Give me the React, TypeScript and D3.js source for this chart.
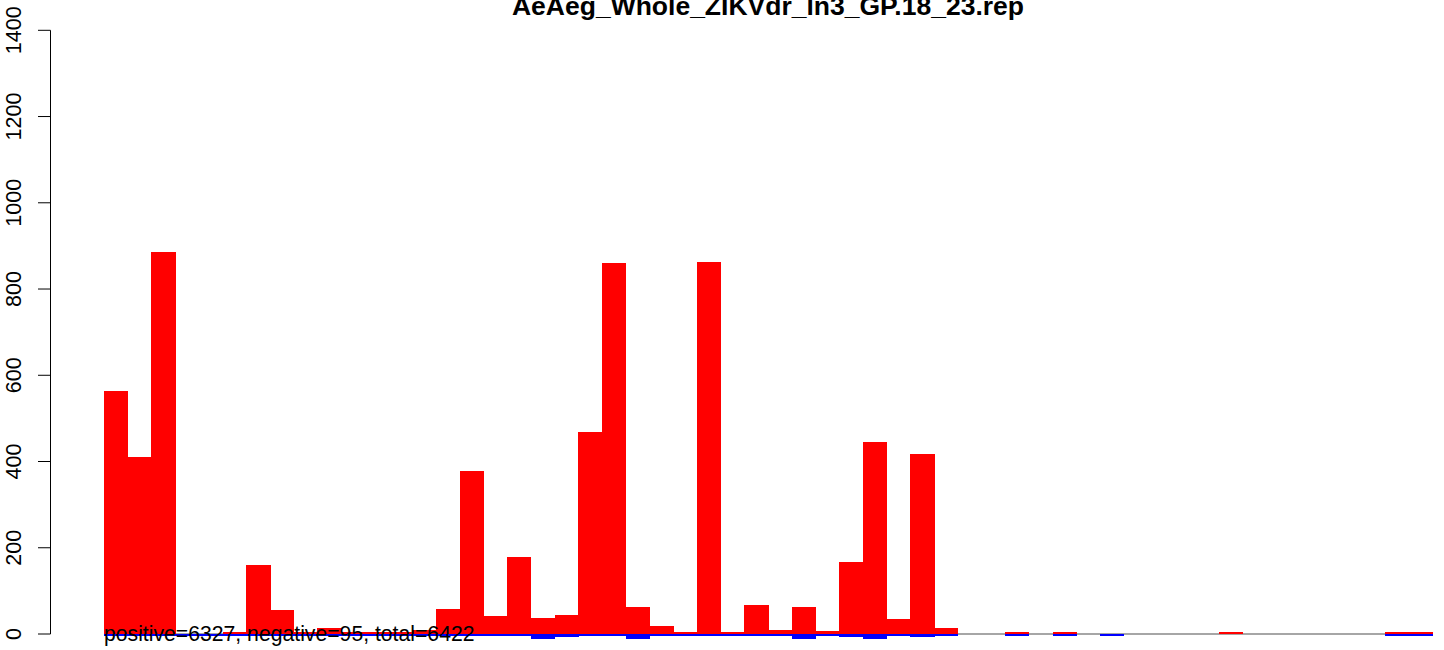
import React from 'react'
import * as d3 from 'd3'

// read-count per position bin (positive strand / negative strand)
const bins = d3.range(1, 57).map(String)

const positive = [
  563, 410, 886, 0, 0, 4, 161, 55, 3, 15,
  2, 2, 2, 10, 59, 377, 41, 178, 36, 43,
  468, 861, 62, 18, 2, 863, 2, 67, 10, 62,
  6, 168, 445, 34, 417, 13, 0, 0, 1, 0,
  2, 0, 0, 0, 0, 0, 0, 1, 0, 0,
  0, 0, 0, 0, 1, 1
]

const negative = [
  1, 1, 1, 1, 1, 1, 1, 1, 1, 1,
  1, 1, 1, 1, 1, 1, 3, 1, 11, 8,
  1, 1, 11, 1, 1, 1, 1, 1, 1, 11,
  4, 8, 11, 4, 6, 2, 0, 0, 1, 0,
  1, 0, 1, 0, 0, 0, 0, 0, 0, 0,
  0, 0, 0, 0, 1, 1
]

const yTicks = [0, 200, 400, 600, 800, 1000, 1200, 1400]

const title = 'AeAeg_Whole_ZIKVdr_ln3_GP.18_23.rep'
const posTotal = 6327
const negTotal = 95

const width = 1444
const height = 650

const App: React.FunctionComponent = () => {
  const x = d3.scaleBand<string>().domain(bins).range([104, 1432]).padding(0)
  const y = d3.scaleLinear().domain([0, 1400]).range([634, 30.3])
  const y0 = y(0)
  const font = "'Liberation Sans', Arial, Helvetica, sans-serif"

  return (
    <svg width={width} height={height} style={{ position: 'absolute', left: 0, top: 0, background: '#fff' }}
      fontFamily={font}>
      <rect width={width} height={height} fill="#fff" />

      <line x1={104} x2={1432} y1={y0} y2={y0} stroke="#888" strokeWidth={1.5} />

      <g fill="#ff0000" shapeRendering="crispEdges">
        {bins.map((b, i) => {
          if (positive[i] <= 0) return null
          const top = Math.min(y(positive[i]), y0 - 2.5)
          return <rect key={b} x={x(b)} width={x.bandwidth() + 0.5} y={top} height={y0 - top} />
        })}
      </g>
      <g fill="#0000ff" shapeRendering="crispEdges">
        {bins.map((b, i) => negative[i] > 0 ? (
          <rect key={b} x={x(b)} width={x.bandwidth() + 0.5} y={y0} height={Math.max(1.5, y(-negative[i]) - y0)} />
        ) : null)}
      </g>

      <g>
        <line x1={50.5} x2={50.5} y1={y(1400)} y2={y0} stroke="#000" strokeWidth={1} />
        {yTicks.map(t => (
          <g key={t}>
            <line x1={38} x2={50.5} y1={y(t)} y2={y(t)} stroke="#000" strokeWidth={1} />
            <text transform={`translate(21,${y(t)}) rotate(-90)`} textAnchor="middle" fontSize={21.5} fill="#000">{t}</text>
          </g>
        ))}
      </g>

      <text x={768} y={15} textAnchor="middle" fontWeight="bold" fontSize={26.5} fill="#000">{title}</text>

      <text x={104} y={y0} dy="0.35em" fontSize={21.2} fill="#000">
        {`positive=${posTotal}, negative=${negTotal}, total=${posTotal + negTotal}`}
      </text>
    </svg>
  )
}

export default App
